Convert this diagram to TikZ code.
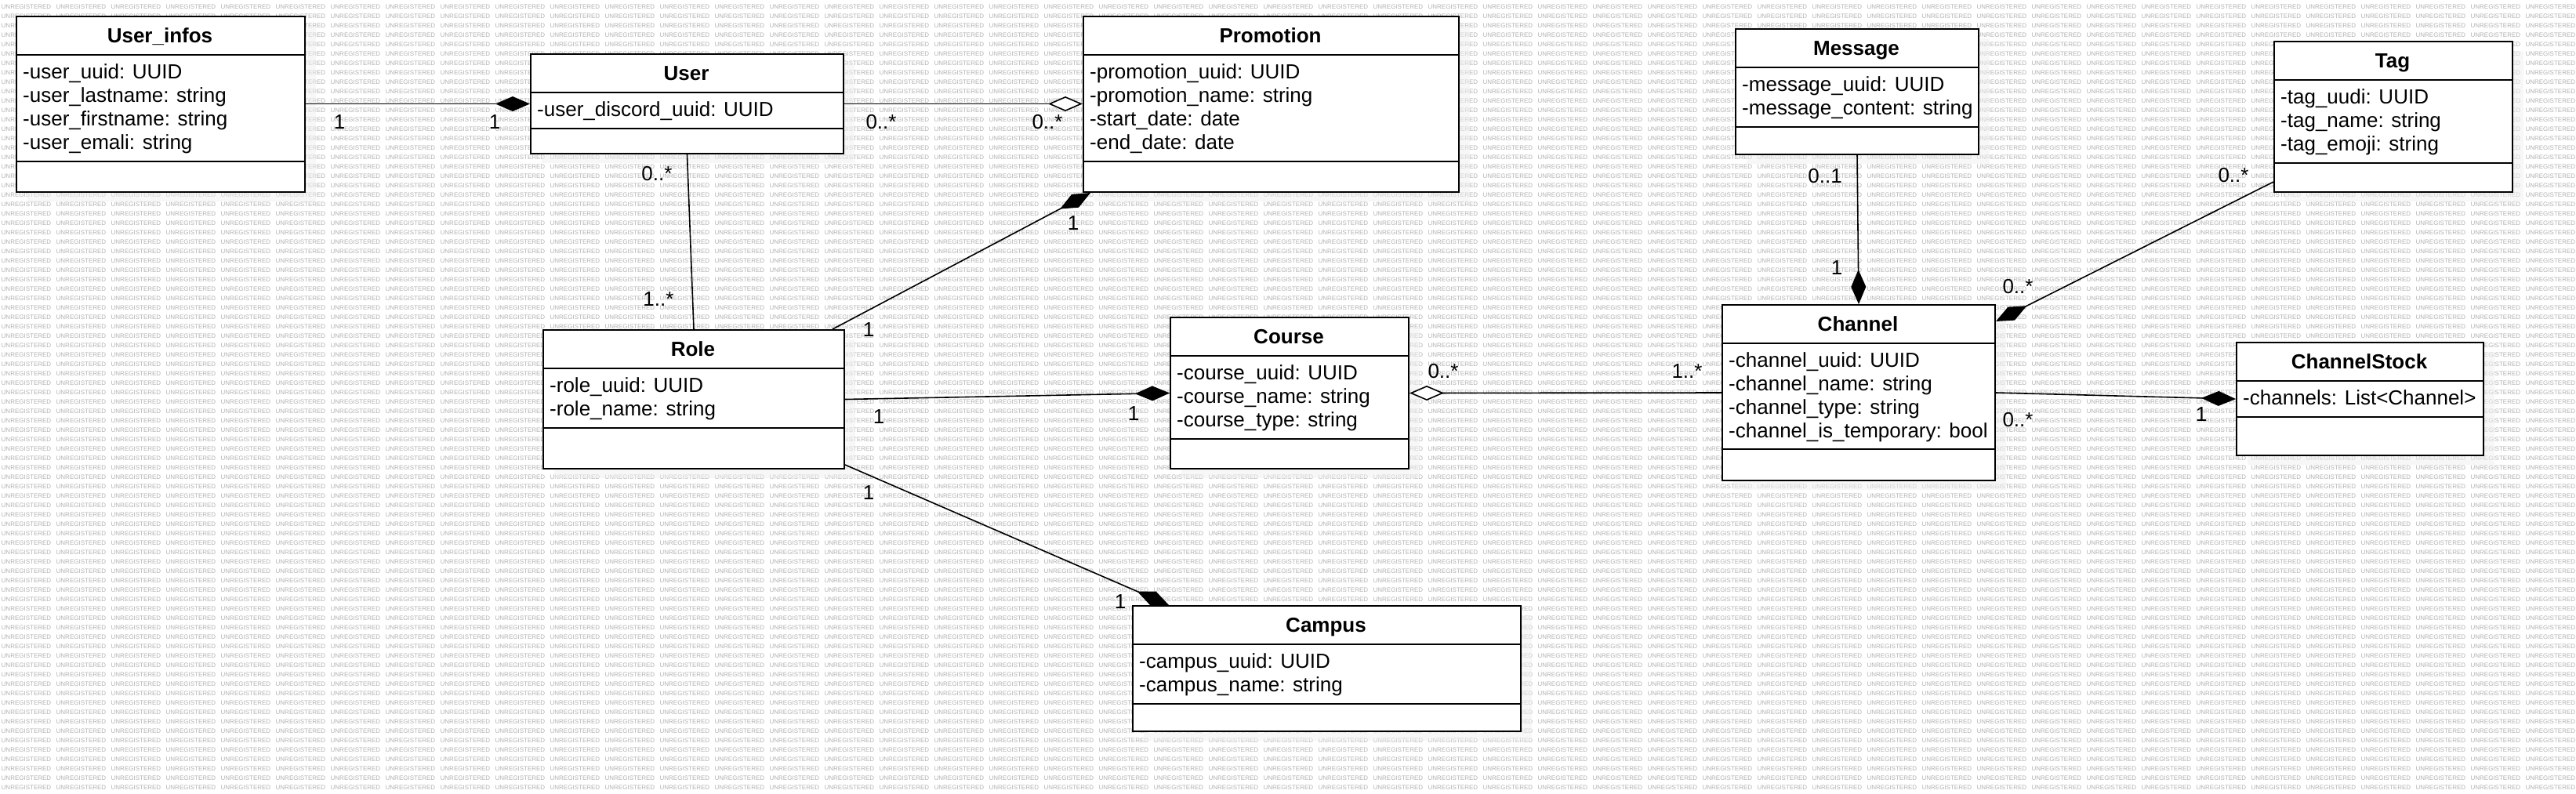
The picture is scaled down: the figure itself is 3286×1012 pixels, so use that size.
\documentclass[tikz,border=0pt]{standalone}
\usepackage{fontspec}
\setmainfont{Liberation Sans}
\usetikzlibrary{arrows.meta}

\newcommand{\umlfont}{\fontsize{26}{30}\selectfont}
\newcommand{\wmrow}{\foreach \k in {1,...,47}{\makebox[70pt][l]{UNREGISTERED}}}
% name, left, top, right, separator, bottom, title, attributes
\newcommand{\umlclass}[8]{%
  \fill[boxshadow] (#2+15,#3+13) rectangle (#4+15,#6+13);
  \node[classbox,minimum width=#4-#2,minimum height=#6-#3] (#1) at (#2,#3) {};
  \draw[line width=2pt] (#2,#3+50) -- (#4,#3+50) (#2,#5) -- (#4,#5);
  \node[clsname] (#1-name) at ({(#2+#4)/2},#3+34) {#7};
  \foreach \a [count=\i] in {#8}
    \node[clsattr] (#1-attr\i) at (#2+9,#3+50+30*\i) {\a};
}

\begin{document}
\begin{tikzpicture}[x=1pt,y=-1pt,font=\umlfont,
    classbox/.style={draw,line width=2pt,fill=white,inner sep=0pt,anchor=north west},
    boxshadow/.style={fill=black!6,fill opacity=0.5},
    clsname/.style={font=\umlfont\bfseries,anchor=base,inner sep=0pt},
    clsattr/.style={anchor=base west,inner sep=0pt},
    mult/.style={anchor=base,inner sep=0pt},
    wm/.style={font=\fontsize{8}{8}\selectfont,text=black!30,anchor=west,inner sep=0pt},
    assoc/.style={line width=1.6pt},
    comp/.style={assoc,-{Diamond[length=44pt,width=19pt,line width=1.6pt]}},
    aggr/.style={assoc,-{Diamond[length=44pt,width=19pt,fill=white,line width=1.6pt]}}]
  \useasboundingbox (0,0) rectangle (3286,1012);
  \fill[white] (0,0) rectangle (3286,1012);
  % watermark
  \foreach \r in {0,...,83}
    \node[wm] (wm\r) at (1.5,9+12*\r) {\wmrow};
  % classes
  \umlclass{userinfos}{20}{20}{388}{206}{244}{User\_infos}{-user\_uuid: UUID,-user\_lastname: string,-user\_firstname: string,-user\_emali: string}
  \umlclass{user}{676}{68}{1075}{164}{195}{User}{-user\_discord\_uuid: UUID}
  \umlclass{promotion}{1381}{20}{1860}{206}{244}{Promotion}{-promotion\_uuid: UUID,-promotion\_name: string,-start\_date: date,-end\_date: date}
  \umlclass{role}{692}{420}{1076}{546}{597}{Role}{-role\_uuid: UUID,-role\_name: string}
  \umlclass{course}{1492}{404}{1796}{560}{597}{Course}{-course\_uuid: UUID,-course\_name: string,-course\_type: string}
  \umlclass{campus}{1444}{772}{1939}{898}{932}{Campus}{-campus\_uuid: UUID,-campus\_name: string}
  \umlclass{message}{2213}{36}{2523}{162}{196}{Message}{-message\_uuid: UUID,-message\_content: string}
  \umlclass{tag}{2900}{52}{3204}{208}{244}{Tag}{-tag\_uudi: UUID,-tag\_name: string,-tag\_emoji: string}
  \umlclass{channel}{2196}{388}{2544}{573}{612}{Channel}{-channel\_uuid: UUID,-channel\_name: string,-channel\_type: string,-channel\_is\_temporary: bool}
  \umlclass{chstock}{2852}{436}{3167}{532}{580}{ChannelStock}{-channels: List<Channel>}
  % associations
  \draw[comp](userinfos.east|-user.west)--(user.west);
  \draw[aggr](user.east)--(promotion.west|-user.east);
  \draw[assoc](user.south)--(role.north);
  \draw[comp]([xshift=-16pt]role.north east)--([xshift=10pt]promotion.south west);
  \draw[comp](role.east)--(course.west);
  \draw[comp]([yshift=6pt]role.south east)--([xshift=47pt]campus.north west);
  \draw[aggr](channel.west)--(course.east);
  \draw[comp](channel.east)--(chstock.west);
  \draw[comp](message.south)--(channel.north);
  \draw[comp]([yshift=14pt]tag.south west)--([yshift=-22pt]channel.north east);
  % multiplicities
  \node[mult] (ui-u) at (433,164) {1};
  \node[mult] (u-ui) at (631,164) {1};
  \node[mult] (u-p) at (1124,164) {0..*};
  \node[mult] (p-u) at (1336,164) {0..*};
  \node[mult] (u-r) at (838,230) {0..*};
  \node[mult] (r-u) at (840,390) {1..*};
  \node[mult] (p-r) at (1369,293) {1};
  \node[mult] (r-p) at (1108,429) {1};
  \node[mult] (r-co) at (1121,540) {1};
  \node[mult] (co-r) at (1446,536) {1};
  \node[mult] (r-ca) at (1108,637) {1};
  \node[mult] (ca-r) at (1429,776) {1};
  \node[mult] (co-ch) at (1841,482) {0..*};
  \node[mult] (ch-co) at (2152,482) {1..*};
  \node[mult] (ch-cs) at (2574,544) {0..*};
  \node[mult] (cs-ch) at (2808,537) {1};
  \node[mult] (m-ch) at (2328,233) {0..1};
  \node[mult] (ch-m) at (2343,350) {1};
  \node[mult] (t-ch) at (2849,232) {0..*};
  \node[mult] (ch-t) at (2574,374) {0..*};
\end{tikzpicture}
\end{document}
